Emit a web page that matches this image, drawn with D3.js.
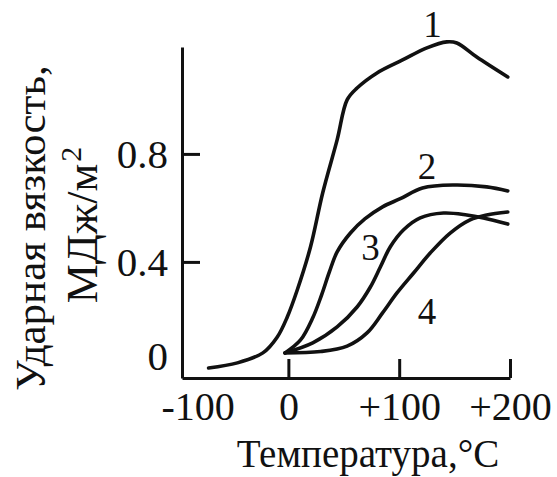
<!DOCTYPE html>
<html lang="ru">
<head>
<meta charset="utf-8">
<title>Ударная вязкость</title>
<style type="text/css">
    body { margin: 0; background: #fff; }
    svg text { font-family: "Liberation Serif", "DejaVu Serif", serif; fill: #111; }
    .axis path, .axis line { stroke: #111; stroke-width: 3; }
    .curve { fill: none; stroke: #111; stroke-width: 3.6; stroke-linecap: round; stroke-linejoin: round; }
</style>
<script src="https://cdn.jsdelivr.net/npm/d3@7/dist/d3.min.js"></script>
</head>
<body>
<div id="chart"></div>
<script type="text/javascript">
    // температура, °C / ударная вязкость, МДж/м2
    var t1 = [-72, -46, -23, -10, -1, 8, 20, 31, 44, 53, 62, 80, 103, 125, 143, 152, 170, 198],
        v1 = [0.007, 0.026, 0.063, 0.122, 0.196, 0.296, 0.456, 0.656, 0.852, 1.0, 1.044, 1.1, 1.148, 1.193, 1.215, 1.211, 1.159, 1.085];
    var t2 = [-3, 11, 22, 30, 37, 44, 56, 69, 85, 101, 121, 149, 179, 198],
        v2 = [0.063, 0.111, 0.193, 0.278, 0.363, 0.437, 0.507, 0.559, 0.604, 0.634, 0.674, 0.685, 0.678, 0.663];
    var t3 = [-3, 22, 44, 62, 74, 83, 92, 104, 119, 140, 161, 176, 198],
        v3 = [0.063, 0.1, 0.159, 0.233, 0.307, 0.381, 0.456, 0.519, 0.563, 0.581, 0.574, 0.563, 0.54];
    var t4 = [-3, 29, 53, 71, 85, 98, 113, 128, 146, 164, 179, 198],
        v4 = [0.063, 0.068, 0.088, 0.137, 0.211, 0.285, 0.359, 0.433, 0.507, 0.556, 0.574, 0.585];

    var curveNames = ["1", "2", "3", "4"],
        labelT = [130, 125, 74, 125],      // где стоят номера кривых
        labelV = [1.28, 0.752, 0.452, 0.215];

    var xTicks = [-100, 0, 100, 200],
        yTicks = [0, 0.4, 0.8];

    var W = 557, H = 477;

    var x = d3.scaleLinear().domain([-96, 200]).range([182, 510]),
        y = d3.scaleLinear().domain([-0.03, 1.196]).range([378, 47]);

    var svg = d3.select("#chart").append("svg")
        .attr("width", W)
        .attr("height", H);

    // оси
    var xAxis = d3.axisBottom(x).tickValues(xTicks)
        .tickSizeInner(-19).tickSizeOuter(0).tickPadding(14)
        .tickFormat(function (d) { return d > 0 ? "+" + d : String(d); });
    var gx = svg.append("g").attr("class", "axis")
        .attr("transform", "translate(0," + y.range()[0] + ")")
        .call(xAxis);
    gx.selectAll("text").style("font-size", "40px");
    // -100 за пределами оси: без риски, подпись чуть правее
    gx.selectAll(".tick").filter(function (d) { return d < x.domain()[0]; })
        .select("line").remove();
    gx.selectAll(".tick").filter(function (d) { return d < x.domain()[0]; })
        .select("text").attr("dx", 20);

    var yAxis = d3.axisLeft(y).tickValues(yTicks)
        .tickSizeInner(-18).tickSizeOuter(0).tickPadding(14)
        .tickFormat(function (d) { return String(d); });
    var gy = svg.append("g").attr("class", "axis")
        .attr("transform", "translate(" + x.range()[0] + ",0)")
        .call(yAxis);
    gy.selectAll("text").style("font-size", "41px");
    gy.selectAll(".tick").filter(function (d) { return d === 0; })
        .select("line").remove();
    gy.selectAll(".tick").filter(function (d) { return d === 0; })
        .select("text").attr("dy", "0.0em");

    // кривые
    var line = d3.line()
        .x(function (d) { return x(d[0]); })
        .y(function (d) { return y(d[1]); })
        .curve(d3.curveCatmullRom.alpha(0.5));

    var series = [d3.zip(t1, v1), d3.zip(t2, v2), d3.zip(t3, v3), d3.zip(t4, v4)];
    svg.append("g").selectAll("path").data(series)
        .enter().append("path")
        .attr("class", "curve")
        .attr("d", line);

    svg.append("g").selectAll("text").data(curveNames)
        .enter().append("text")
        .attr("x", function (d, i) { return x(labelT[i]); })
        .attr("y", function (d, i) { return y(labelV[i]); })
        .attr("text-anchor", "middle")
        .attr("dominant-baseline", "central")
        .style("font-size", "37px")
        .text(function (d) { return d; });

    // подписи осей
    svg.append("text")
        .attr("x", 368).attr("y", 467)
        .attr("text-anchor", "middle")
        .style("font-size", "39px")
        .text("Температура,°C");

    var ylab = svg.append("g").attr("transform", "translate(0,228) rotate(-90)");
    ylab.append("text")
        .attr("x", 0).attr("y", 45)
        .attr("text-anchor", "middle")
        .style("font-size", "43px")
        .text("Ударная вязкость,");
    var l2 = ylab.append("text")
        .attr("x", 3).attr("y", 97)
        .attr("text-anchor", "middle")
        .style("font-size", "44px");
    l2.append("tspan").text("МДж/м");
    l2.append("tspan").attr("dx", "2").attr("dy", "-0.55em").style("font-size", "30px").text("2");
</script>
</body>
</html>
